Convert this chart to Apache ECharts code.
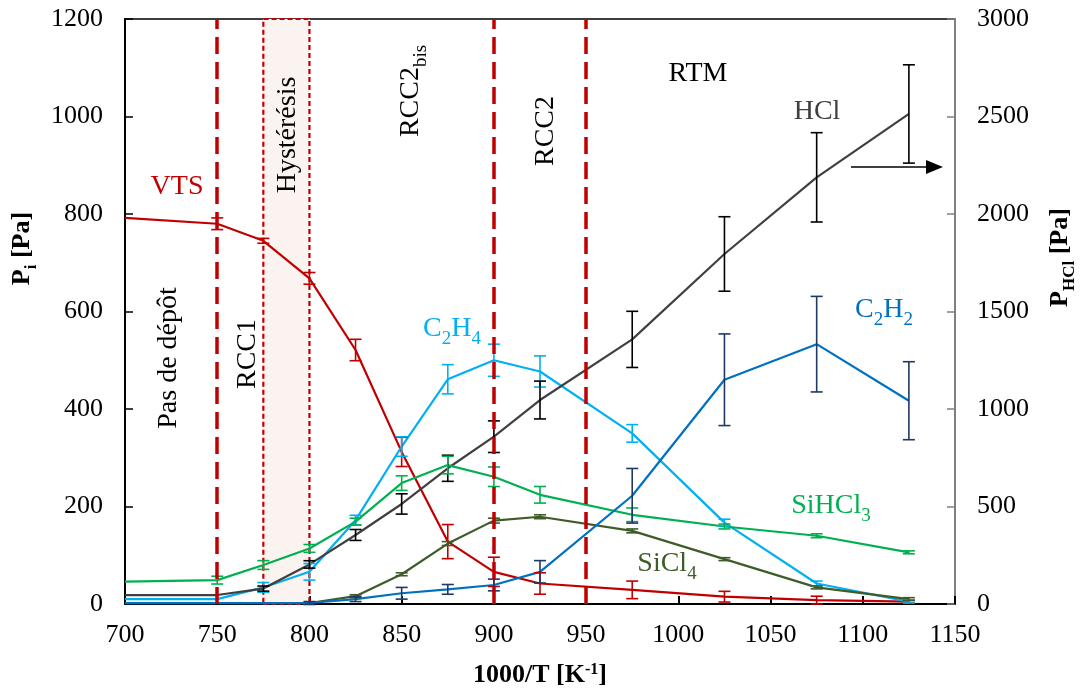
<!DOCTYPE html>
<html>
<head>
<meta charset="utf-8">
<script src="https://cdn.jsdelivr.net/npm/echarts@6/dist/echarts.min.js"></script>
<style>
html,body{margin:0;padding:0;background:#fff;}
#chart{width:1086px;height:695px;}
</style>
</head>
<body>
<div id="chart"></div>
<script>
// ---- data ----
const xValues = [700, 750, 775, 800, 825, 850, 875, 900, 925, 975, 1025, 1075, 1125];
const vts      = [792, 780, 745, 668, 521, 312, 128, 66, 42, 29, 15, 8, 5];
const vtsErr   = [0, 12, 5, 12, 22, 30, 35, 30, 22, 18, 11, 8, 3];
const c2h4     = [10, 10, 34, 66, 172, 323, 461, 500, 477, 350, 167, 42, 5];
const c2h4Err  = [0, 0, 10, 17, 10, 20, 30, 33, 32, 18, 7, 5, 3];
const hcl      = [46, 46, 79, 203, 354, 513, 696, 858, 1046, 1357, 1795, 2188, 2513];
const hclErr   = [0, 0, 13, 19, 28, 52, 67, 81, 97, 144, 191, 229, 252];
const sihcl3   = [46, 49, 80, 114, 169, 248, 285, 261, 224, 183, 159, 140, 106];
const sihcl3Err= [0, 8, 9, 8, 7, 15, 18, 20, 17, 14, 5, 4, 3];
const sicl4    = [null, null, null, 2, 16, 61, 124, 171, 179, 150, 92, 34, 10];
const sicl4Err = [0, 0, 0, 0, 3, 3, 4, 5, 4, 4, 3, 3, 3];
const c2h2     = [2, 2, 2, 2, 10, 22, 30, 39, 66, 222, 460, 533, 417];
const c2h2Err  = [0, 0, 0, 3, 5, 12, 10, 12, 23, 56, 94, 98, 80];
const regimeLines = [750, 900, 950];
const hysteresis = [775, 800];
const xTicks = {min: 700, max: 1150, interval: 50};
const yLeftTicks = {min: 0, max: 1200, interval: 200};
const yRightTicks = {min: 0, max: 3000, interval: 500};

const FONT = "'Liberation Serif', 'Times New Roman', serif";

function pairs(vals) { return xValues.map((x, i) => [x, vals[i]]); }
function errData(vals, errs) {
  const out = [];
  xValues.forEach((x, i) => {
    if (vals[i] != null && errs[i] > 0) out.push([x, vals[i] - errs[i], vals[i] + errs[i]]);
  });
  return out;
}
function errRender(color) {
  return function (params, api) {
    const x = api.value(0), lo = api.value(1), hi = api.value(2);
    const p1 = api.coord([x, hi]), p2 = api.coord([x, lo]);
    const w = 6;
    const st = {stroke: color, lineWidth: 1.6};
    return {type: 'group', children: [
      {type: 'line', shape: {x1: p1[0], y1: p1[1], x2: p2[0], y2: p2[1]}, style: st},
      {type: 'line', shape: {x1: p1[0] - w, y1: p1[1], x2: p1[0] + w, y2: p1[1]}, style: st},
      {type: 'line', shape: {x1: p2[0] - w, y1: p2[1], x2: p2[0] + w, y2: p2[1]}, style: st}
    ]};
  };
}
function lineSeries(name, vals, color, yIdx, extra) {
  return Object.assign({
    name: name, type: 'line', data: pairs(vals), yAxisIndex: yIdx,
    showSymbol: false, symbol: 'none', connectNulls: false,
    lineStyle: {color: color, width: 2.2}, itemStyle: {color: color},
    z: 3, silent: true, animation: false
  }, extra || {});
}
function errSeries(vals, errs, color, yIdx) {
  return {type: 'custom', yAxisIndex: yIdx, data: errData(vals, errs),
    renderItem: errRender(color), z: 4, silent: true, animation: false,
    encode: {x: 0, y: [1, 2]}};
}

const C = {vts: '#C00000', c2h4: '#00B0F0', hcl: '#404040', sihcl3: '#00B050', sicl4: '#3E5C28', c2h2: '#0070C0', c2h2Err: '#1F3864'};

const richBase = {
  b: {fontSize: 26, fontWeight: 'bold', fontFamily: FONT, color: '#000', lineHeight: 30, verticalAlign: 'top'},
  s: {fontSize: 17, fontWeight: 'bold', fontFamily: FONT, color: '#000', verticalAlign: 'top', padding: [14, 0, 0, 0]},
  u: {fontSize: 16, fontWeight: 'bold', fontFamily: FONT, color: '#000', verticalAlign: 'top'}
};

function annot(text, x, y, color, rotate, rich) {
  const el = {type: 'text', x: x, y: y, z: 50, silent: true,
    style: {text: text, fill: color, font: '28px ' + FONT, align: 'center', verticalAlign: 'middle'}};
  if (rotate) el.rotation = Math.PI / 2;
  if (rich) el.style.rich = rich;
  return el;
}
function chemRich(color) {
  return {
    n: {fontSize: 28, fontFamily: FONT, fill: color, lineHeight: 32, verticalAlign: 'top'},
    d: {fontSize: 19, fontFamily: FONT, fill: color, verticalAlign: 'top', padding: [15, 0, 0, 0]}
  };
}
const plainNum = v => String(v);

const option = {
  backgroundColor: '#fff',
  animation: false,
  grid: {left: 125, right: 126, top: 19, bottom: 91, show: true, borderColor: '#000', borderWidth: 1.5, backgroundColor: 'transparent'},
  xAxis: {
    type: 'value', min: xTicks.min, max: xTicks.max, interval: xTicks.interval,
    axisLine: {show: true, onZero: false, lineStyle: {color: '#000', width: 2}},
    axisTick: {show: true, inside: true, length: 8, lineStyle: {color: '#000', width: 2}},
    axisLabel: {fontSize: 26, fontFamily: FONT, color: '#000', margin: 18, formatter: plainNum},
    splitLine: {show: false},
    name: '{b|1000/T [K}{u|-1}{b|]}', nameLocation: 'middle', nameGap: 58,
    nameTextStyle: {rich: richBase}
  },
  yAxis: [{
    type: 'value', min: yLeftTicks.min, max: yLeftTicks.max, interval: yLeftTicks.interval, position: 'left',
    axisLine: {show: true, lineStyle: {color: '#000', width: 2}},
    axisTick: {show: true, inside: true, length: 8, lineStyle: {color: '#000', width: 1.5}},
    axisLabel: {fontSize: 26, fontFamily: FONT, color: '#000', margin: 22, formatter: plainNum},
    splitLine: {show: false},
    name: '{b|P}{s|i}{b| [Pa]}', nameLocation: 'middle', nameGap: 84, nameRotate: 90,
    nameTextStyle: {rich: richBase, padding: [0, 0, 0, 126]}
  }, {
    type: 'value', min: yRightTicks.min, max: yRightTicks.max, interval: yRightTicks.interval, position: 'right',
    axisLine: {show: true, lineStyle: {color: '#808080', width: 2}},
    axisTick: {show: true, inside: true, length: 8, lineStyle: {color: '#808080', width: 1.5}},
    axisLabel: {fontSize: 26, fontFamily: FONT, color: '#000', margin: 22, formatter: plainNum},
    splitLine: {show: false},
    name: '{b|P}{s|HCl}{b| [Pa]}', nameLocation: 'middle', nameGap: 92, nameRotate: 90,
    nameTextStyle: {rich: richBase, padding: [0, 0, 0, 108]}
  }],
  series: [
    lineSeries('VTS', vts, C.vts, 0, {
      markArea: {silent: true, itemStyle: {color: '#FBF3EF', borderColor: C.vts, borderWidth: 2.2, borderType: [5, 3]},
        data: [[{xAxis: hysteresis[0]}, {xAxis: hysteresis[1]}]]}
    }),
    lineSeries('C2H4', c2h4, C.c2h4, 0),
    lineSeries('HCl', hcl, C.hcl, 1),
    lineSeries('SiHCl3', sihcl3, C.sihcl3, 0),
    lineSeries('SiCl4', sicl4, C.sicl4, 0),
    lineSeries('C2H2', c2h2, C.c2h2, 0),
    errSeries(vts, vtsErr, C.vts, 0),
    errSeries(c2h4, c2h4Err, C.c2h4, 0),
    errSeries(hcl, hclErr, '#000', 1),
    errSeries(sihcl3, sihcl3Err, C.sihcl3, 0),
    errSeries(sicl4, sicl4Err, C.sicl4, 0),
    errSeries(c2h2, c2h2Err, C.c2h2Err, 0),
    {
      type: 'line', data: [], yAxisIndex: 0, z: 10, silent: true,
      markLine: {silent: true, symbol: ['none', 'none'], label: {show: false},
        lineStyle: {color: C.vts, width: 3.5, type: [17, 8]},
        data: regimeLines.map(v => ({xAxis: v}))}
    }
  ],
  graphic: [
    annot('Pas de dépôt', 169, 358, '#000', true),
    annot('RCC1', 248, 354, '#000', true),
    annot('Hystérésis', 288, 135, '#000', true),
    annot('{n|RCC2}{d|bis}', 414, 91, '#000', true, chemRich('#000')),
    annot('RCC2', 546, 131, '#000', true),
    annot('RTM', 698, 74, '#000', false),
    annot('HCl', 817, 112, '#404040', false),
    annot('VTS', 177, 187, C.vts, false),
    annot('{n|C}{d|2}{n|H}{d|4}', 452, 332, C.c2h4, false, chemRich(C.c2h4)),
    annot('{n|C}{d|2}{n|H}{d|2}', 884, 313, C.c2h2, false, chemRich(C.c2h2)),
    annot('{n|SiHCl}{d|3}', 831, 509, C.sihcl3, false, chemRich(C.sihcl3)),
    annot('{n|SiCl}{d|4}', 667, 567, C.sicl4, false, chemRich(C.sicl4)),
    {type: 'line', z: 50, silent: true, shape: {x1: 851, y1: 167, x2: 930, y2: 167}, style: {stroke: '#000', lineWidth: 1.6}},
    {type: 'polygon', z: 50, silent: true, shape: {points: [[926, 160], [943, 167], [926, 174]]}, style: {fill: '#000'}}
  ]
};

const chart = echarts.init(document.getElementById('chart'), null, {renderer: 'canvas'});
chart.setOption(option);
</script>
</body>
</html>
